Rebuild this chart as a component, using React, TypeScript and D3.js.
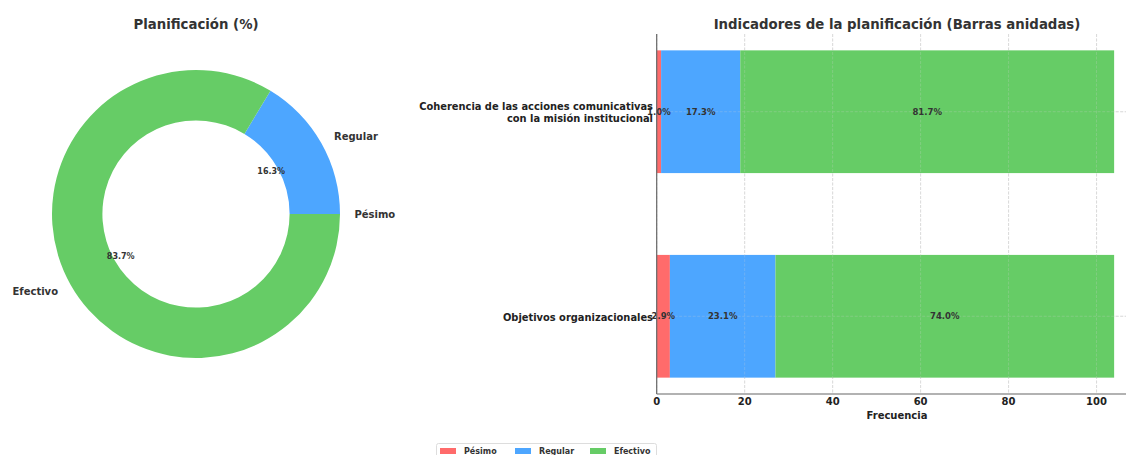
import React from "react";
import * as d3 from "d3";

// Donut: overall planning rating (counts)
const donutCategories = ["Pésimo", "Regular", "Efectivo"];
const donutCounts = [0, 17, 87];

// Stacked bars: planning indicators (counts per rating)
const indicators = [
  "Objetivos organizacionales",
  "Coherencia de las acciones comunicativas\ncon la misión institucional",
];
const pesimoCounts = [3, 1];
const regularCounts = [24, 18];
const efectivoCounts = [77, 85];
const xTicks = [0, 20, 40, 60, 80, 100];

const colors = ["#ff6b6b", "#4da6ff", "#66cc66"];
const FONT = "DejaVu Sans, Verdana, sans-serif";
const W = 1126;
const H = 455;

function Donut() {
  const cx = 196;
  const cy = 214;
  const r = 144;
  const inner = r * 0.65;
  const total = d3.sum(donutCounts);
  // angles measured counter-clockwise from 3 o'clock
  let theta = 0;
  const slices = donutCounts.map((v, i) => {
    const t0 = theta;
    const t1 = theta + (v / total) * 2 * Math.PI;
    theta = t1;
    return { v, i, t0, t1, mid: (t0 + t1) / 2 };
  });
  const arc = d3.arc<any>().innerRadius(inner).outerRadius(r);
  return (
    <g>
      <text x={cx} y={29} textAnchor="middle" fontFamily={FONT} fontWeight="bold" fontSize={13.3} fill="#333">
        Planificación (%)
      </text>
      {slices.map((s) =>
        s.v > 0 ? (
          <path
            key={s.i}
            transform={`translate(${cx},${cy})`}
            d={arc({ startAngle: Math.PI / 2 - s.t0, endAngle: Math.PI / 2 - s.t1 }) as string}
            fill={colors[s.i]}
          />
        ) : null
      )}
      {slices.map((s) => {
        const lx = cx + r * 1.1 * Math.cos(s.mid);
        const ly = cy - r * 1.1 * Math.sin(s.mid);
        return (
          <text
            key={"l" + s.i}
            x={lx}
            y={ly}
            dy="0.35em"
            textAnchor={Math.cos(s.mid) >= 0 ? "start" : "end"}
            fontFamily={FONT}
            fontWeight="bold"
            fontSize={10}
            fill="#333"
          >
            {donutCategories[s.i]}
          </text>
        );
      })}
      {slices.map((s) =>
        s.v > 0 ? (
          <text
            key={"p" + s.i}
            x={cx + r * 0.6 * Math.cos(s.mid)}
            y={cy - r * 0.6 * Math.sin(s.mid)}
            dy="0.35em"
            textAnchor="middle"
            fontFamily={FONT}
            fontWeight="bold"
            fontSize={8}
            fill="#333"
          >
            {((s.v / total) * 100).toFixed(1)}%
          </text>
        ) : null
      )}
    </g>
  );
}

function Bars() {
  const left = 656.7;
  const right = 1137;
  const top = 34;
  const bottom = 394;
  const totals = indicators.map((_, i) => pesimoCounts[i] + regularCounts[i] + efectivoCounts[i]);
  const xMax = d3.max(totals)! * 1.05;
  const x = d3.scaleLinear().domain([0, xMax]).range([left, right]);
  const y = d3.scaleLinear().domain([-0.38, 1.38]).range([bottom, top]);
  const barH = 0.6;
  const series = [pesimoCounts, regularCounts, efectivoCounts];
  const stack = indicators.map((_, i) => {
    let acc = 0;
    return series.map((s, k) => {
      const x0 = acc;
      acc += s[i];
      return { k, x0, x1: acc, pct: (s[i] / totals[i]) * 100 };
    });
  });
  const grid = (
    <g>
      {xTicks.map((t) => (
        <line key={"gx" + t} x1={x(t)} x2={x(t)} y1={top} y2={bottom} stroke="#d4d4d4" strokeWidth={0.8} strokeDasharray="3,1.5" />
      ))}
      {indicators.map((_, i) => (
        <line key={"gy" + i} x1={left} x2={right} y1={y(i)} y2={y(i)} stroke="#d4d4d4" strokeWidth={0.8} strokeDasharray="3,1.5" />
      ))}
    </g>
  );
  return (
    <g>
      <text x={897} y={29} textAnchor="middle" fontFamily={FONT} fontWeight="bold" fontSize={13.3} fill="#333">
        Indicadores de la planificación (Barras anidadas)
      </text>
      {grid}
      {stack.map((segs, i) =>
        segs.map((sg) => (
          <rect
            key={i + "-" + sg.k}
            x={x(sg.x0)}
            width={x(sg.x1) - x(sg.x0)}
            y={y(i + barH / 2)}
            height={y(i - barH / 2) - y(i + barH / 2)}
            fill={colors[sg.k]}
          />
        ))
      )}
      <g opacity={0.3}>{grid}</g>
      {stack.map((segs, i) =>
        segs.map((sg) => (
          <text
            key={"t" + i + "-" + sg.k}
            x={(x(sg.x0) + x(sg.x1)) / 2}
            y={y(i)}
            dy="0.35em"
            textAnchor="middle"
            fontFamily={FONT}
            fontWeight="bold"
            fontSize={8.5}
            fill="#333"
          >
            {sg.pct.toFixed(1)}%
          </text>
        ))
      )}
      <line x1={left} x2={left} y1={top} y2={bottom} stroke="#666" strokeWidth={1.2} />
      <line x1={left} x2={right} y1={bottom} y2={bottom} stroke="#666" strokeWidth={1.2} />
      {xTicks.map((t) => (
        <text key={"xt" + t} x={x(t)} y={405} textAnchor="middle" fontFamily={FONT} fontWeight="bold" fontSize={10} fill="#222">
          {t}
        </text>
      ))}
      <text x={897} y={419} textAnchor="middle" fontFamily={FONT} fontWeight="bold" fontSize={10} fill="#222">
        Frecuencia
      </text>
      {indicators.map((lab, i) => {
        const lines = lab.split("\n");
        const lh = 11.5;
        return (
          <text key={"yl" + i} textAnchor="end" fontFamily={FONT} fontWeight="bold" fontSize={9.9} fill="#222">
            {lines.map((ln, j) => (
              <tspan key={j} x={653} y={y(i) + 1 + (j - (lines.length - 1) / 2) * lh} dy="0.35em">
                {ln}
              </tspan>
            ))}
          </text>
        );
      })}
    </g>
  );
}

function Legend() {
  const items = [
    { label: donutCategories[0], x: 440 },
    { label: donutCategories[1], x: 515 },
    { label: donutCategories[2], x: 590 },
  ];
  return (
    <g>
      <rect x={436.5} y={443.5} width={220} height={20} rx={2} fill="#fff" stroke="#ddd" />
      {items.map((it, i) => (
        <g key={i}>
          <rect x={it.x} y={448} width={16} height={6} fill={colors[i]} />
          <text x={it.x + 24} y={451} dy="0.35em" fontFamily={FONT} fontWeight="bold" fontSize={8} fill="#333">
            {it.label}
          </text>
        </g>
      ))}
    </g>
  );
}

export default function App() {
  return (
    <svg width={W} height={H} style={{ position: "absolute", left: 0, top: 0, background: "#fff" }}>
      <rect width={W} height={H} fill="#fff" />
      <Donut />
      <Bars />
      <Legend />
    </svg>
  );
}
